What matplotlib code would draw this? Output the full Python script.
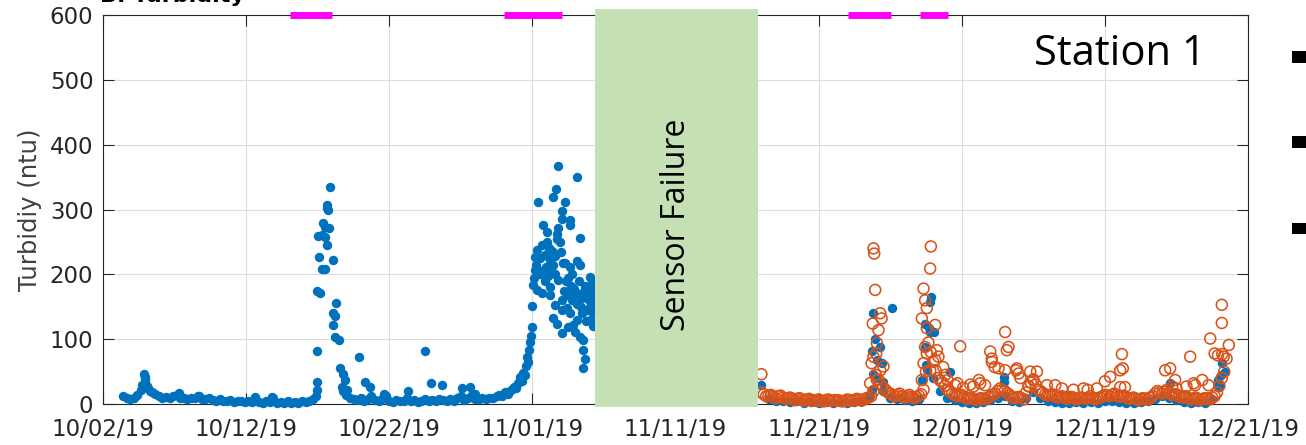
import numpy as np
import matplotlib
matplotlib.use('Agg')
import matplotlib.pyplot as plt
import matplotlib.dates as mdates
from matplotlib.patches import Rectangle
from datetime import datetime

# days are counted from 10/02/19
START = datetime(2019, 10, 2)

# blue sensor, regular baseline samples (6 h)
blue_a_t0 = 1.4
blue_a = [12, 10, 7, 9, 14, 22, 38, 24, 18, 15, 12, 10, 11, 9, 12, 14, 10, 9, 8, 10,
          9, 12, 8, 7, 9, 6, 5, 7, 4, 5, 6, 3, 4, 5, 3, 4, 3, 9, 3, 2,
          4, 3, 9, 2, 3, 2, 4, 2, 3, 2, 4, 3, 5, 8]
blue_b_t0 = 16.75
blue_b = [20, 14, 10, 8, 6, 9, 5, 7, 12, 6, 4, 8, 12, 5, 3, 6, 4, 5, 9, 4,
          6, 3, 5, 7, 4, 6, 5, 8, 6, 4, 7, 5, 9, 12, 6, 10, 14, 8, 7, 9,
          8, 10, 9, 12]
# blue sensor after the failure (12 h)
blue_c_t0 = 46.0
blue_c = [30, 8, 5, 4, 3, 4, 2, 3, 2, 3, 2, 3, 2, 3, 4, 12, 40, 20, 10, 8,
          6, 5, 7, 60, 40, 20, 10, 6, 3, 2, 2, 3, 6, 10, 12, 5, 3, 10, 18, 10,
          5, 3, 2, 2, 3, 2, 3, 2, 4, 5, 3, 2, 2, 3, 4, 8, 12, 10, 6, 3,
          2, 3, 2, 8, 30]

# blue sensor, single readings off the baseline
blue_out_days = [2.75, 2.85, 2.9, 2.95, 3.05, 3.3, 5.3, 6.7, 10.6, 11.8, 19.6, 21.3,
                 22.5, 22.9, 23.7, 25.07, 25.65, 26.0]
blue_out_vals = [30, 47, 42, 33, 28, 20, 17, 13, 11, 11, 15, 20, 82, 32, 29, 24, 27, 15]

oct_days = [14.85, 14.96, 14.96, 14.98, 14.98, 15.05, 15.12, 15.16, 15.28, 15.28,
            15.35, 15.51, 15.51, 15.51, 15.63, 15.65, 15.65, 15.75, 15.82, 15.86,
            16.05, 16.1, 16.1, 16.21, 16.21, 16.28, 16.51, 16.56, 16.68, 16.79,
            16.91, 17.03, 17.91, 18.31, 18.66]
oct_vals = [12, 34, 22, 82, 174, 259, 227, 171, 261, 209,
            279, 273, 209, 258, 245, 307, 302, 299, 271, 334,
            222, 140, 122, 135, 104, 156, 99, 55, 27, 47,
            37, 22, 72, 34, 27]

ramp_days = [27.7, 27.9, 28.1, 28.3, 28.5, 28.7, 28.85, 29.0, 29.1, 29.25, 29.35, 29.45,
             29.55, 29.6, 29.7, 29.75, 29.85, 29.9]
ramp_vals = [14, 12, 18, 16, 22, 27, 24, 32, 42, 36, 48, 44, 58, 73, 65, 83, 95, 105]

nov_days = [29.96, 29.96, 30.05, 30.19, 30.19, 30.33, 30.42, 30.54, 30.68, 30.75,
            31.0, 31.0, 31.1, 31.24, 31.24, 31.45, 31.47, 31.47, 31.59, 31.65,
            31.7, 31.7, 31.8, 31.8, 31.82, 32.05, 32.05, 32.05, 32.05, 32.29,
            32.29, 32.4, 32.5, 32.52, 32.63, 32.63, 32.63, 32.75, 32.87, 32.98,
            33.1, 33.1, 33.1, 33.33, 33.33, 33.33, 33.45, 33.56, 33.56, 33.56,
            33.68, 33.92, 34.03, 34.03, 34.03, 34.24, 34.26, 34.38, 34.5]
nov_vals = [151, 119, 183, 227, 207, 176, 312, 200, 171, 276,
            266, 232, 197, 222, 168, 215, 319, 132, 153, 332,
            255, 124, 271, 191, 367, 297, 286, 145, 109, 311,
            217, 148, 195, 119, 284, 276, 211, 160, 122, 111,
            350, 220, 155, 256, 214, 104, 163, 99, 83, 55,
            70, 160, 196, 150, 130, 181, 140, 165, 119]
nov2_days = [30.1, 30.25, 30.35, 30.5, 30.6, 30.7, 30.85, 30.95, 31.05, 31.15,
             31.3, 31.35, 31.55, 31.75, 31.9, 32.0, 32.15, 32.2, 32.35, 32.45,
             32.55, 32.7, 32.8, 32.9, 33.0, 33.2, 33.25, 33.4, 33.5, 33.6,
             33.7, 33.8, 33.85, 34.0, 34.1, 34.15, 34.3, 34.35, 34.45,
             30.9, 31.2, 31.6, 32.1, 32.6, 33.15, 33.75, 34.2]
nov2_vals = [195, 215, 238, 225, 205, 245, 230, 212, 250, 240,
             205, 236, 228, 262, 250, 235, 218, 175, 190, 168,
             175, 182, 200, 178, 168, 170, 190, 150, 140, 175,
             182, 145, 165, 172, 158, 190, 145, 175, 150,
             190, 180, 200, 160, 140, 130, 128, 120]

rb_days = [53.7, 53.7, 53.83, 53.83, 53.95, 54.07, 54.3, 54.4, 54.53, 55.11,
           57.21, 57.44, 57.44, 57.56, 57.68, 57.75, 57.79, 57.84, 58.07, 59.19,
           62.92, 62.92, 74.56, 77.9, 77.95, 78.1, 78.17, 78.4]
rb_vals = [81, 22, 140, 47, 101, 68, 88, 63, 34, 148,
           37, 124, 88, 52, 117, 158, 111, 165, 111, 50,
           42, 34, 32, 37, 27, 45, 63, 50]

# orange sensor, regular samples (8 h, two interleaved runs)
orange_t0 = 46.0
orange = [18, 12, 14, 9, 13, 8, 10, 6, 9, 5, 8, 5, 7, 4, 7, 5, 6, 4, 7, 5,
          8, 5, 9, 12, 45, 30, 22, 16, 12, 16, 10, 14, 9, 13, 22, 95, 65, 40, 33, 22,
          16, 12, 14, 8, 10, 6, 9, 7, 12, 16, 24, 20, 14, 9, 11, 7, 28, 38, 22, 17,
          13, 15, 10, 12, 8, 11, 7, 10, 8, 12, 7, 10, 14, 12, 16, 11, 13, 8, 10, 6,
          9, 7, 12, 20, 16, 22, 14, 15, 10, 12, 7, 10, 6, 9, 7, 12, 28, 50]
orange_b_t0 = 46.1667
orange_b = [15, 13, 11, 12, 10, 9, 8, 8, 7, 7, 6, 6, 5, 6, 5, 6, 5, 5, 6, 6,
            7, 7, 10, 20, 38, 26, 18, 14, 14, 12, 12, 11, 11, 15, 50, 80, 52, 36, 28, 19,
            14, 13, 11, 9, 8, 8, 8, 10, 14, 20, 22, 17, 11, 10, 9, 18, 33, 30, 20, 15,
            14, 12, 11, 10, 10, 9, 9, 9, 10, 9, 9, 12, 13, 14, 13, 12, 10, 9, 8, 8,
            8, 10, 16, 18, 19, 18, 15, 12, 11, 9, 8, 8, 8, 9, 10, 18, 40]

ro_days = [46.0, 53.6, 53.7, 53.78, 53.83, 53.83, 53.88, 53.95, 54.02, 54.07,
           54.07, 54.18, 54.3, 54.3, 54.4, 54.53, 57.21, 57.21, 57.33, 57.33,
           57.44, 57.44, 57.56, 57.56, 57.56, 57.79, 57.79, 57.84, 58.14, 58.14,
           58.26, 58.37, 58.7, 58.85, 59.0, 59.54, 59.89, 60.1, 60.8, 61.29,
           61.63, 61.99, 62.1, 62.1, 62.57, 63.03, 63.03, 63.15, 63.27, 63.85,
           63.97, 64.68, 64.78, 65.0, 65.25, 65.95, 66.53, 67.8, 68.5, 69.44,
           70.37, 71.07, 71.07, 71.19, 71.4, 74.21, 74.56, 74.7, 74.91, 75.0,
           75.7, 75.96, 76.3, 77.24, 77.36, 77.67, 77.9, 78.17, 78.17, 78.2,
           78.3, 78.5, 78.66,
           61.2, 62.3, 63.8, 64.1, 59.7, 60.6, 67.0, 68.8, 70.0, 71.25, 76.2, 76.8]
ro_vals = [46, 32, 63, 124, 240, 73, 232, 176, 78, 94,
           37, 114, 140, 52, 132, 58, 132, 37, 178, 63,
           160, 88, 148, 117, 78, 209, 52, 243, 122, 68,
           83, 73, 57, 45, 37, 29, 89, 25, 27, 32,
           29, 81, 70, 65, 55, 111, 52, 83, 88, 55,
           47, 27, 50, 37, 50, 29, 29, 22, 24, 24,
           42, 52, 26, 77, 26, 52, 55, 27, 37, 24,
           27, 73, 29, 29, 101, 78, 75, 153, 125, 77,
           73, 70, 91,
           37, 57, 52, 40, 32, 30, 24, 22, 35, 55, 32, 37]

# rain events (magenta) and sensor failure window, days from start
rain_start = [13.07, 28.05, 52.07, 57.1]
rain_end = [16.02, 32.05, 55.05, 59.04]
fail_start = 34.38
fail_end = 45.77

BLUE = '#0072BD'
ORANGE = '#D95319'
base = mdates.date2num(START)


def regular(t0, step, vals):
    return base + t0 + step * np.arange(len(vals)), np.array(vals)


fig = plt.figure(figsize=(13.06, 4.45), dpi=100)
ax = fig.add_axes([0.0789, 0.0921, 0.8767, 0.8742])

blue_sets = [regular(blue_a_t0, 0.25, blue_a), regular(blue_b_t0, 0.25, blue_b),
             regular(blue_c_t0, 0.5, blue_c),
             (base + np.array(blue_out_days), blue_out_vals),
             (base + np.array(oct_days), oct_vals),
             (base + np.array(ramp_days), ramp_vals),
             (base + np.array(nov_days), nov_vals),
             (base + np.array(nov2_days), nov2_vals),
             (base + np.array(rb_days), rb_vals)]
for xs, ys in blue_sets:
    ax.scatter(xs, ys, s=46, c=BLUE, linewidths=0, clip_on=False, zorder=3)

orange_sets = [regular(orange_t0, 1 / 3, orange), regular(orange_b_t0, 1 / 3, orange_b),
               (base + np.array(ro_days), ro_vals)]
for xs, ys in orange_sets:
    ax.scatter(xs, ys, s=62, facecolors='none', edgecolors=ORANGE, linewidths=1.15,
               clip_on=False, zorder=4)

for s, e in zip(rain_start, rain_end):
    ax.plot([base + s, base + e], [600, 600], color='#FF00FF', lw=5,
            solid_capstyle='butt', clip_on=False, zorder=6)

ax.add_patch(Rectangle((base + fail_start, -5), fail_end - fail_start, 614,
                       facecolor='#C5E0B4', edgecolor='none', clip_on=False, zorder=10))
ax.text(base + (fail_start + fail_end) / 2, 276, 'Sensor Failure', rotation=90,
        ha='center', va='center', fontsize=23, family='Open Sans', zorder=11)

ax.set_xlim(base, base + 80)
ax.set_ylim(0, 600)
ax.set_xticks(base + np.arange(0, 81, 10))
ax.xaxis.set_major_formatter(mdates.DateFormatter('%m/%d/%y'))
ax.set_yticks(np.arange(0, 601, 100))
ax.grid(True, color='#DCDCDC', lw=0.8)
ax.set_axisbelow(True)
for sp in ax.spines.values():
    sp.set_color('#262626')
    sp.set_linewidth(0.8)
ax.tick_params(direction='in', length=8, width=0.8, top=True, right=True,
               labelsize=16.5, colors='#262626')
ax.tick_params(axis='x', pad=10)
ax.tick_params(axis='y', pad=7)
ax.set_ylabel('Turbidiy (ntu)', fontsize=17.5, color='#404040')
ax.yaxis.set_label_coords(-0.0533, 0.5)

fig.text(1206 / 1306, 1 - 65 / 445, 'Station 1', ha='right', va='baseline',
         fontsize=30, family='Open Sans')
# panel title, cropped at the top edge as in the source slide
fig.text(100 / 1306, 1 - 1.5 / 445, 'B. Turbidity', ha='left', va='baseline',
         fontsize=16, fontweight='bold')
for yc in [57, 142, 228]:
    fig.add_artist(Rectangle((1292 / 1306, 1 - (yc + 5.5) / 445), 0.02, 11 / 445,
                             transform=fig.transFigure, facecolor='black',
                             edgecolor='none'))

fig.savefig('out.png', dpi=100)
